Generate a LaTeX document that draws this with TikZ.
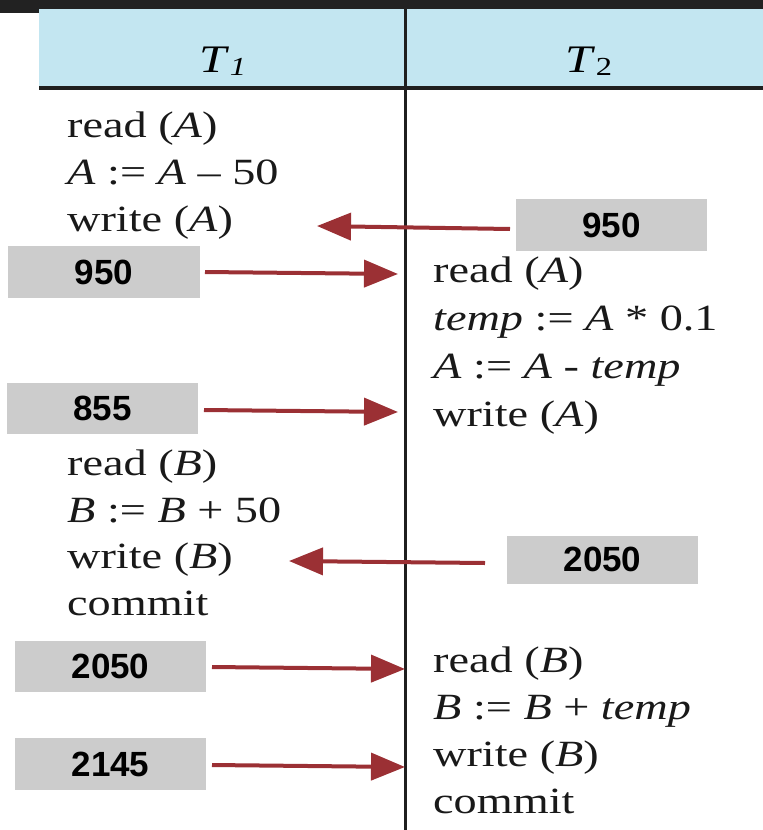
\documentclass[tikz,border=0pt]{standalone}
\usepackage{fontspec}
\setmainfont[FakeStretch=1.25]{Liberation Serif}
\newfontfamily\numfont{Liberation Sans}
\usetikzlibrary{arrows.meta}
\definecolor{topbar}{HTML}{222222}
\definecolor{headblue}{HTML}{C3E6F1}
\definecolor{boxgray}{HTML}{CCCCCC}
\definecolor{arrowred}{HTML}{9B3034}
\tikzset{
  txt/.style={anchor=base west, inner sep=0pt, font=\fontsize{37}{44}\selectfont, text=black!90},
  head/.style={anchor=base, inner sep=0pt, font=\fontsize{39}{44}\selectfont},
  valbox/.style={fill=boxgray, inner sep=0pt, font=\numfont\bfseries\fontsize{35}{40}\selectfont},
  flow/.style={draw=arrowred, line width=4pt, -{Triangle[length=34pt,width=27pt]}},
  rule/.style={draw=black!88, line width=3pt}
}
\begin{document}
\begin{tikzpicture}[x=1pt,y=-1pt]
\useasboundingbox (0,0) rectangle (763,830);
% header
\fill[topbar] (0,0) rectangle (763,8.5);
\fill[topbar] (0,0) rectangle (39,13);
\fill[headblue] (39,8.5) rectangle (763,88);
\draw[rule, line width=3.5pt] (39,88) -- (763,88);
\draw[rule] (405,8.5) -- (405,830);
\node[head] (t1) at (223,72) {\textit{T}\raisebox{-0.1em}{\fontsize{26}{26}\selectfont\textit{1}}};
\node[head] (t2) at (589,72) {\textit{T}\raisebox{-0.1em}{\fontsize{26}{26}\selectfont 2}};
% T1 column
\node[txt] (l1) at (67,137) {read (\textit{A})};
\node[txt] (l2) at (67,184) {\textit{A} := \textit{A} – 50};
\node[txt] (l3) at (67,231) {write (\textit{A})};
\node[txt] (l4) at (67,475) {read (\textit{B})};
\node[txt] (l5) at (67,522) {\textit{B} := \textit{B} + 50};
\node[txt] (l6) at (67,568) {write (\textit{B})};
\node[txt] (l7) at (67,615) {commit};
% T2 column
\node[txt] (r1) at (433,282) {read (\textit{A})};
\node[txt] (r2) at (433,330) {\textit{temp} := \textit{A} * 0.1};
\node[txt] (r3) at (433,378) {\textit{A} := \textit{A} - \textit{temp}};
\node[txt] (r4) at (433,426) {write (\textit{A})};
\node[txt] (r5) at (433,672) {read (\textit{B})};
\node[txt] (r6) at (433,719) {\textit{B} := \textit{B} + \textit{temp}};
\node[txt] (r7) at (433,766) {write (\textit{B})};
\node[txt] (r8) at (433,813) {commit};
% value boxes
\node[valbox, minimum width=191pt, minimum height=52pt] (b1) at (611.5,225) {950};
\node[valbox, minimum width=192pt, minimum height=52pt] (b2) at (104,272) {950};
\node[valbox, minimum width=191pt, minimum height=51pt] (b3) at (102.5,408.5) {855};
\node[valbox, minimum width=191pt, minimum height=48pt] (b4) at (602.5,559.5) {2050};
\node[valbox, minimum width=191pt, minimum height=51pt] (b5) at (110.5,666.5) {2050};
\node[valbox, minimum width=191pt, minimum height=52pt] (b6) at (110.5,764) {2145};
% arrow ends
\coordinate (s1) at (510,229); \coordinate (e1) at (317,226);
\coordinate (s2) at (205,272); \coordinate (e2) at (398,274);
\coordinate (s3) at (204,410); \coordinate (e3) at (398,412);
\coordinate (s4) at (485,563); \coordinate (e4) at (289,561);
\coordinate (s5) at (212,667); \coordinate (e5) at (405,669);
\coordinate (s6) at (212,765); \coordinate (e6) at (405,767);
\foreach \i in {1,...,6} {\draw[flow] (s\i) -- (e\i);}
\end{tikzpicture}
\end{document}
